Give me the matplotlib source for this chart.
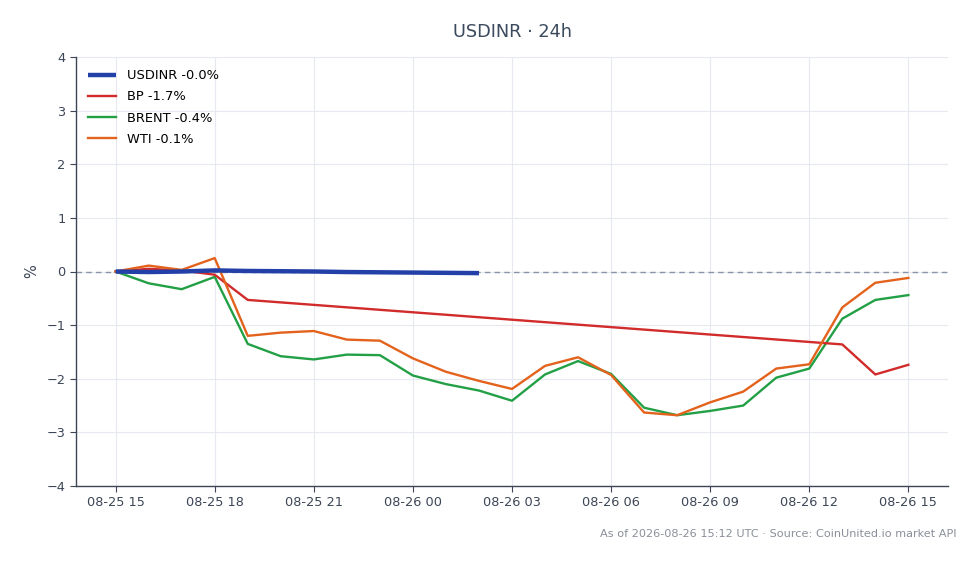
import matplotlib
matplotlib.use("Agg")
import matplotlib.pyplot as plt
import matplotlib.dates as mdates
import pandas as pd
import numpy as np

start = pd.Timestamp("2026-08-25 15:00")

usdinr_h = list(range(0, 12))
usdinr_v = [0.0, -0.01, 0.0, 0.02, 0.01, 0.005, 0.0, -0.01, -0.015, -0.02, -0.025, -0.03]

bp_h = [0, 1, 2, 3, 4, 22, 23, 24]
bp_v = [0.0, 0.05, 0.02, -0.06, -0.53, -1.36, -1.92, -1.74]

brent_h = list(range(0, 25))
brent_v = [0.0, -0.22, -0.33, -0.10, -1.35, -1.58, -1.64, -1.55, -1.56, -1.94, -2.10, -2.22, -2.41,
           -1.92, -1.67, -1.91, -2.54, -2.68, -2.60, -2.50, -1.98, -1.81, -0.88, -0.53, -0.44]

wti_h = list(range(0, 25))
wti_v = [0.0, 0.11, 0.03, 0.25, -1.20, -1.14, -1.11, -1.27, -1.29, -1.62, -1.87, -2.04, -2.19,
         -1.76, -1.60, -1.93, -2.63, -2.68, -2.44, -2.24, -1.81, -1.73, -0.67, -0.21, -0.12]

labels = ["USDINR -0.0%", "BP -1.7%", "BRENT -0.4%", "WTI -0.1%"]
title = "USDINR · 24h"
footer = "As of 2026-08-26 15:12 UTC · Source: CoinUnited.io market API"

def tx(hours):
    return [start + pd.Timedelta(hours=h) for h in hours]

fig = plt.figure(figsize=(9.8, 5.64), dpi=100)
ax = fig.add_axes([76/980, 1-486/564, (948-76)/980, (486-57)/564])

ax.axhline(0, color="#8a94a8", lw=1, ls=(0, (4, 3)), zorder=1)
ax.plot(tx(usdinr_h), usdinr_v, color="#2340a8", lw=3.2, label=labels[0], zorder=5, solid_capstyle="butt")
ax.plot(tx(bp_h), bp_v, color="#d22b2b", lw=1.7, label=labels[1], zorder=4)
ax.plot(tx(brent_h), brent_v, color="#23a046", lw=1.7, label=labels[2], zorder=3)
ax.plot(tx(wti_h), wti_v, color="#e3621c", lw=1.7, label=labels[3], zorder=4)

ax.set_ylim(-4, 4)
ax.set_yticks(range(-4, 5))
pad = pd.Timedelta(hours=1.2)
ax.set_xlim(start - pad, start + pd.Timedelta(hours=24) + pad)
ax.xaxis.set_major_locator(mdates.HourLocator(byhour=range(0, 24, 3)))
ax.xaxis.set_major_formatter(mdates.DateFormatter("%m-%d %H"))

ax.grid(True, color="#e6e9ef", lw=0.8)
ax.set_axisbelow(True)
for s in ["top", "right"]:
    ax.spines[s].set_visible(False)
for s in ["left", "bottom"]:
    ax.spines[s].set_color("#3c4656")
    ax.spines[s].set_linewidth(1.0)
ax.tick_params(colors="#3c4656", labelsize=9.3, length=4)
ax.set_ylabel("%", color="#3c4656", fontsize=10.5, labelpad=5)

ax.legend(loc="upper left", frameon=False, fontsize=9.4, handlelength=2.1, borderaxespad=0.55,
          labelspacing=0.62, handletextpad=0.85)

fig.text(512/980, 1-32/564, title, ha="center", va="center", fontsize=12.8, color="#3c4a5e")
fig.text(956/980, 1-534/564, footer, ha="right", va="center", fontsize=8.1, color="#8a8f99")

fig.savefig("out.png", dpi=100)
